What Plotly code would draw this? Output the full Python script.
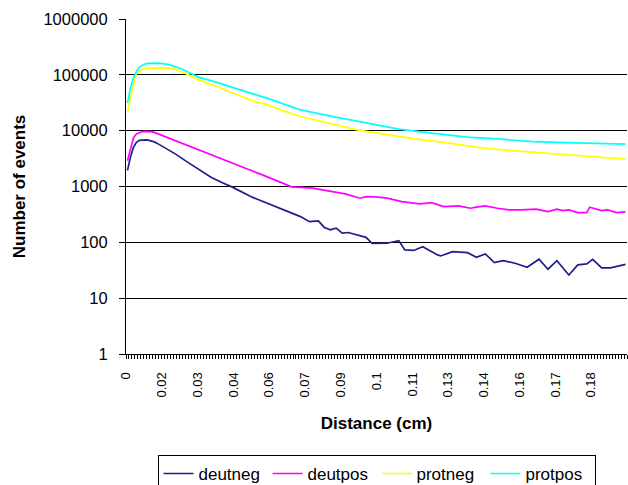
import numpy as np
import plotly.graph_objects as go

# Distance is histogrammed in equal-width bins (cm); each series lists bin number -> event count
BIN_WIDTH = 0.001183
N_BINS = 168

# Category labels shown on the distance axis (one every 12 bins)
tick_labels = ["0", "0.02", "0.03", "0.04", "0.06", "0.07", "0.09",
               "0.1", "0.11", "0.13", "0.14", "0.16", "0.17", "0.18"]
LABEL_EVERY = 12

deutneg_bins = [0, 1, 2, 3, 4, 5, 6, 7, 8, 9, 10, 12, 16, 20, 24, 28, 32, 35, 42, 49,
                55, 58, 61, 64, 66, 68, 70, 72, 74, 78, 80, 82, 85, 87, 91, 93, 96, 99,
                104, 105, 109, 114, 117, 120, 123, 126, 130, 134, 138, 141, 144, 148,
                151, 154, 156, 159, 162, 164, 167]
deutneg_counts = [1940, 3390, 5020, 6170, 6700, 6840, 6840, 6780, 6560, 6300, 5920, 5130,
                  3840, 2760, 1980, 1460, 1160, 984, 638, 449, 343, 289, 235, 242, 185,
                  167, 179, 146, 150, 130, 123, 95.5, 95.5, 96.4, 107, 73, 71.6, 83.7,
                  59.5, 57, 68, 65.4, 54, 62, 43.3, 47, 42.2, 35.8, 49.8, 33, 47, 26,
                  39.4, 41, 49.4, 34.8, 34.8, 36.7, 40.2]

deutpos_bins = [0, 1, 2, 3, 4, 5, 6, 7, 8, 9, 11, 14, 18, 22, 27, 33, 39, 45, 51, 55,
                62, 68, 73, 78, 80, 84, 87, 92, 98, 102, 106, 111, 115, 117, 120, 124,
                128, 132, 137, 141, 144, 146, 148, 151, 154, 155, 157, 159, 161, 164, 167]
deutpos_counts = [2900, 4920, 7430, 8770, 9330, 9640, 9700, 9700, 9640, 9330, 8480, 7220,
                  6040, 4980, 3900, 2910, 2170, 1630, 1210, 984, 933, 811, 737, 617, 659,
                  643, 617, 536, 488, 514, 436, 449, 408, 426, 449, 408, 381, 381, 392,
                  355, 392, 370, 381, 341, 341, 426, 392, 370, 381, 341, 351]

protneg_bins = [0, 1, 2, 3, 4, 5, 6, 10, 15, 19, 24, 30, 35, 41, 47, 52, 58, 69, 77, 86,
                97, 108, 119, 130, 141, 152, 167]
protneg_counts = [22000, 40300, 66200, 106400, 118000, 125500, 130700, 133400, 131000,
                  108600, 81300, 61700, 48200, 35600, 29000, 22900, 17900, 13200, 10300,
                  8650, 7040, 5970, 4860, 4350, 3950, 3530, 3080]

protpos_bins = [0, 1, 2, 3, 4, 5, 6, 7, 8, 9, 10, 11, 14, 18, 22, 24, 30, 35, 41, 47, 52,
                58, 69, 80, 91, 102, 114, 125, 136, 147, 158, 167]
protpos_counts = [31100, 58500, 88300, 114600, 137400, 149300, 157500, 161000, 162300,
                  162300, 162000, 161000, 152400, 128800, 102300, 90200, 73400, 59700,
                  47600, 37900, 30200, 23600, 17900, 14000, 10640, 9020, 7650, 7040, 6380,
                  6120, 5970, 5730]

series = [
    ("deutneg", deutneg_bins, deutneg_counts, "#1f1f8c"),
    ("deutpos", deutpos_bins, deutpos_counts, "#ff00ff"),
    ("protneg", protneg_bins, protneg_counts, "#ffff00"),
    ("protpos", protpos_bins, protpos_counts, "#00ffff"),
]

FONT = "Liberation Sans, Arial, sans-serif"

fig = go.Figure()
for name, bins, counts, color in series:
    fig.add_trace(go.Scatter(
        x=np.asarray(bins) * BIN_WIDTH,
        y=counts,
        mode="lines",
        name=name,
        line=dict(color=color, width=1.7),
    ))

# Tick marks sit on bin boundaries; a label every LABEL_EVERY bins
boundaries = [(i - 0.5) * BIN_WIDTH for i in range(N_BINS + 1)]
boundary_text = [""] * (N_BINS + 1)
for k, lab in enumerate(tick_labels):
    boundary_text[k * LABEL_EVERY] = lab

decades = [1, 10, 100, 1000, 10000, 100000, 1000000]

fig.update_layout(
    width=628,
    height=485,
    margin=dict(l=126, r=1, t=19, b=131),
    paper_bgcolor="white",
    plot_bgcolor="white",
    font=dict(family=FONT, color="black"),
    showlegend=True,
    legend=dict(
        orientation="h",
        x=0.5, xanchor="center",
        yref="container", y=0.062, yanchor="top",
        bordercolor="black", borderwidth=1,
        font=dict(size=17, family=FONT),
        bgcolor="white",
        itemwidth=30,
        entrywidth=64,
        entrywidthmode="pixels",
    ),
    xaxis=dict(
        range=[-0.5 * BIN_WIDTH, (N_BINS - 0.5) * BIN_WIDTH],
        tickmode="array",
        tickvals=boundaries,
        ticktext=boundary_text,
        ticks="outside", ticklen=4, tickcolor="black", tickwidth=1,
        tickangle=-90,
        tickfont=dict(size=13, family=FONT),
        ticklabelstandoff=8,
        showline=True, linecolor="black", linewidth=1,
        showgrid=False, zeroline=False,
        automargin=False,
        title=dict(text="<b>Distance (cm)</b>", font=dict(size=17, family=FONT), standoff=20),
    ),
    yaxis=dict(
        type="log",
        range=[0, 6],
        tickmode="array",
        tickvals=decades,
        ticktext=[str(v) for v in decades],
        ticks="outside", ticklen=6, tickcolor="black", tickwidth=1,
        tickfont=dict(size=16.5, family=FONT),
        ticklabelstandoff=8,
        showline=True, linecolor="black", linewidth=1,
        showgrid=True, gridcolor="black", gridwidth=1.2,
        zeroline=False,
        automargin=False,
        title=dict(text="<b>Number of events</b>", font=dict(size=17, family=FONT), standoff=13),
    ),
)

fig.write_html("out.html")
